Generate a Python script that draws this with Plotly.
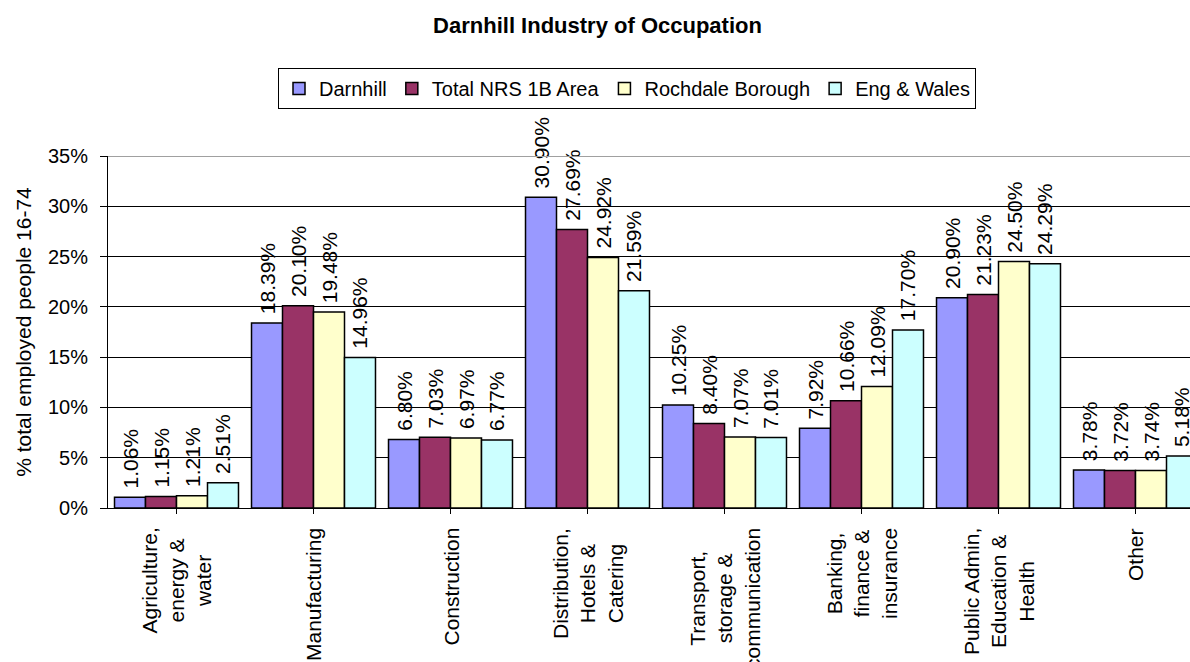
import plotly.graph_objects as go

categories = [
    "Agriculture,<br>energy &<br>water",
    "Manufacturing",
    "Construction",
    "Distribution,<br>Hotels &<br>Catering",
    "Transport,<br>storage &<br>communication",
    "Banking,<br>finance &<br>insurance",
    "Public Admin,<br>Education &<br>Health",
    "Other",
]
series_names = ["Darnhill", "Total NRS 1B Area", "Rochdale Borough", "Eng & Wales"]
darnhill = [1.06, 18.39, 6.80, 30.90, 10.25, 7.92, 20.90, 3.78]
total_nrs = [1.15, 20.10, 7.03, 27.69, 8.40, 10.66, 21.23, 3.72]
rochdale = [1.21, 19.48, 6.97, 24.92, 7.07, 12.09, 24.50, 3.74]
eng_wales = [2.51, 14.96, 6.77, 21.59, 7.01, 17.70, 24.29, 5.18]
y_ticks = [0, 5, 10, 15, 20, 25, 30, 35]
y_tick_labels = [f"{v}%" for v in y_ticks]

colors = ["#9999FF", "#993366", "#FFFFCC", "#CCFFFF"]
FONT = "Liberation Sans, Arial, sans-serif"

W, H = 1190, 662
L = 108
T = 156
B = 662 - 508
R = 0
plot_w = W - L - R
plot_h = H - T - B
cat_w = 137.0
x_end = plot_w / cat_w - 0.5

fig = go.Figure()
for name, vals, col in zip(series_names, [darnhill, total_nrs, rochdale, eng_wales], colors):
    fig.add_trace(go.Bar(
        name=name, x=list(range(len(categories))), y=vals,
        marker=dict(color=col, line=dict(color="black", width=1.5)),
        texttemplate="\u00a0%{y:.2f}%", textposition="outside", textangle=-90,
        textfont=dict(family=FONT, size=21, color="black"),
        constraintext="none", cliponaxis=False,
    ))

fig.update_layout(
    width=W, height=H,
    margin=dict(l=L, r=R, t=T, b=B, autoexpand=False),
    paper_bgcolor="white", plot_bgcolor="white",
    barmode="group", bargap=0.095, bargroupgap=0,
    font=dict(family=FONT, color="black"),
    title=dict(text="<b>Darnhill Industry of Occupation</b>",
               font=dict(family=FONT, size=22, color="black"),
               x=597.5 / W, xref="container", xanchor="center",
               y=1 - 25 / H, yref="container", yanchor="middle"),
    legend=dict(orientation="h", x=(627 - L) / plot_w, xanchor="center",
                y=(508 - 68) / plot_h, yanchor="top",
                bordercolor="black", borderwidth=1, bgcolor="white",
                font=dict(family=FONT, size=20, color="black"),
                traceorder="normal"),
    showlegend=True,
)
fig.update_xaxes(
    range=[-0.5, x_end], tickmode="array", tickvals=list(range(len(categories))),
    showticklabels=False, tickson="boundaries", ticks="outside", ticklen=5,
    tickcolor="black", showline=True, linecolor="black", linewidth=1,
    showgrid=False, zeroline=False, fixedrange=True,
)
fig.update_yaxes(
    range=[0, 35], tickmode="array", tickvals=y_ticks, ticktext=y_tick_labels,
    tickfont=dict(family=FONT, size=20, color="black"),
    ticks="outside", ticklen=7, tickcolor="black", ticklabelstandoff=8,
    showline=True, linecolor="black", linewidth=1,
    showgrid=True, gridcolor="black", gridwidth=1, zeroline=False,
    title=dict(text="% total employed people 16-74",
               font=dict(family=FONT, size=21, color="black"), standoff=10),
    automargin=False,
)
fig.add_shape(type="line", xref="paper", yref="y", x0=0, x1=1, y0=35, y1=35,
              line=dict(color="#A0A0A0", width=2), layer="above")

for i, cat in enumerate(categories):
    fig.add_annotation(x=i, xref="x", y=(508 - 526) / plot_h, yref="paper",
                       text=cat, showarrow=False, textangle=-90,
                       xanchor="center", yanchor="top", align="center",
                       font=dict(family=FONT, size=21, color="black"))

fig.write_html("out.html", config={"displayModeBar": False},
               post_script="document.body.style.margin='0';document.body.style.overflow='hidden';")
